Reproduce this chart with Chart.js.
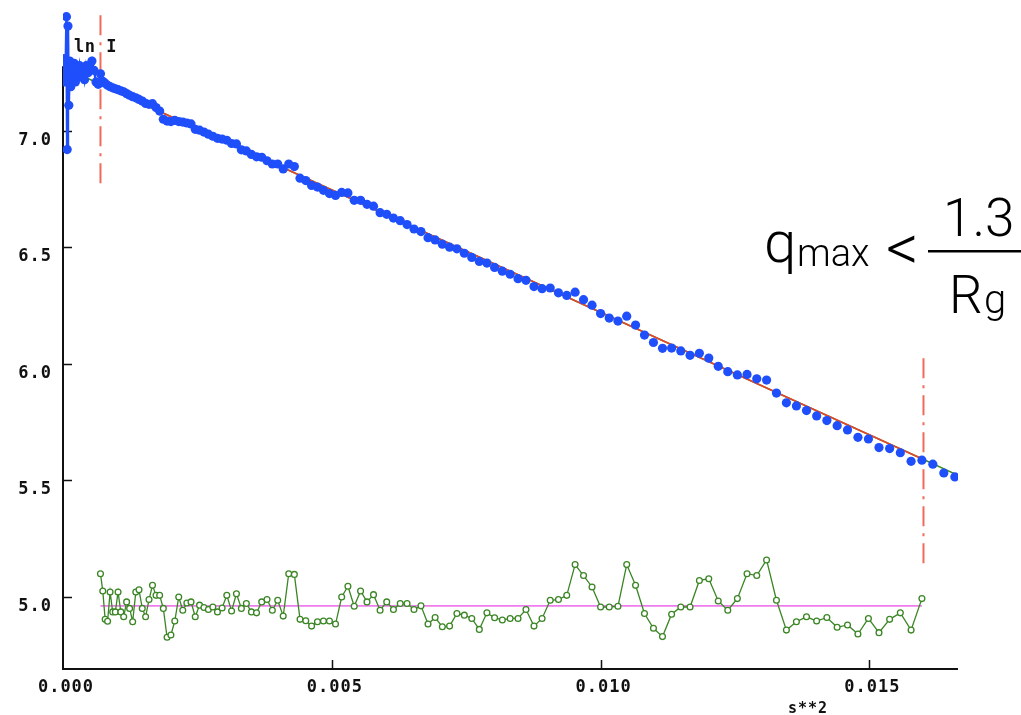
<!DOCTYPE html>
<html lang="en">
<head>
<meta charset="UTF-8">
<style>
  body { margin: 0; background: #fff; }
  #wrap { width: 1021px; height: 715px; }
</style>
</head>
<body>
<div id="wrap"><canvas id="guinier"></canvas></div>
<script src="https://cdn.jsdelivr.net/npm/chart.js@4.4.0/dist/chart.umd.min.js"></script>
<script>
// s**2 of every measured point, in units of 1e-6
const s2_e6 = [
  0.64, 2.56, 5.76, 10.24, 16.0, 23.04, 31.36, 40.96, 51.84, 64.0,
  77.44, 92.16, 108.16, 125.44, 144.0, 163.84, 184.96, 207.36, 231.04, 256.0,
  282.24, 309.76, 338.56, 368.64, 400.0, 432.64, 466.56, 501.76, 538.24, 576.0,
  615.04, 655.36, 696.96, 739.84, 784.0, 829.44, 876.16, 924.16, 973.44, 1024.0,
  1075.84, 1128.96, 1183.36, 1239.04, 1296.0, 1354.24, 1413.76, 1474.56, 1536.64, 1600.0,
  1664.64, 1730.56, 1797.76, 1866.24, 1936.0, 2007.04, 2079.36, 2152.96, 2227.84, 2304.0,
  2381.44, 2460.16, 2540.16, 2621.44, 2704.0, 2787.84, 2872.96, 2959.36, 3047.04, 3136.0,
  3226.24, 3317.76, 3410.56, 3504.64, 3600.0, 3696.64, 3794.56, 3893.76, 3994.24, 4096.0,
  4199.04, 4303.36, 4408.96, 4515.84, 4624.0, 4733.44, 4844.16, 4956.16, 5069.44, 5184.0,
  5299.84, 5416.96, 5535.36, 5655.04, 5776.0, 5898.24, 6021.76, 6146.56, 6272.64, 6400.0,
  6528.64, 6658.56, 6789.76, 6922.24, 7056.0, 7191.04, 7327.36, 7464.96, 7603.84, 7744.0,
  7885.44, 8028.16, 8172.16, 8317.44, 8464.0, 8611.84, 8760.96, 8911.36, 9063.04, 9216.0,
  9370.24, 9525.76, 9682.56, 9840.64, 10000.0, 10160.64, 10322.56, 10485.76, 10650.24, 10816.0,
  10983.04, 11151.36, 11320.96, 11491.84, 11664.0, 11837.44, 12012.16, 12188.16, 12365.44, 12544.0,
  12723.84, 12904.96, 13087.36, 13271.04, 13456.0, 13642.24, 13829.76, 14018.56, 14208.64, 14400.0,
  14592.64, 14786.56, 14981.76, 15178.24, 15376.0, 15575.04, 15775.36, 15976.96, 16179.84, 16384.0,
  16589.44
];

// ln I for the same points
const lnI = [
  7.25, 7.30, 7.22, 7.27, 7.31, 7.23, 7.28, 7.21, 7.30, 7.49,
  6.92, 7.45, 7.11, 7.30, 7.19, 7.27, 7.22, 7.29, 7.21, 7.26,
  7.23, 7.28, 7.24, 7.26, 7.22, 7.28, 7.25, 7.27, 7.30, 7.26,
  7.21, 7.20, 7.245, 7.213, 7.205, 7.196, 7.190, 7.185, 7.181, 7.177,
  7.172, 7.168, 7.160, 7.153, 7.147, 7.142, 7.135, 7.128, 7.118, 7.114,
  7.117, 7.100, 7.085, 7.050, 7.042, 7.040, 7.045, 7.040, 7.038, 7.034,
  7.030, 7.007, 7.003, 6.995, 6.986, 6.977, 6.968, 6.965, 6.960, 6.946,
  6.944, 6.919, 6.914, 6.899, 6.889, 6.887, 6.872, 6.858, 6.858, 6.837,
  6.858, 6.847, 6.797, 6.787, 6.766, 6.759, 6.745, 6.731, 6.723, 6.736,
  6.734, 6.702, 6.702, 6.685, 6.677, 6.649, 6.642, 6.626, 6.615, 6.598,
  6.579, 6.568, 6.542, 6.532, 6.514, 6.501, 6.494, 6.475, 6.457, 6.440,
  6.433, 6.414, 6.398, 6.385, 6.366, 6.359, 6.332, 6.323, 6.326, 6.305,
  6.294, 6.308, 6.276, 6.252, 6.216, 6.197, 6.184, 6.205, 6.167, 6.124,
  6.092, 6.067, 6.068, 6.056, 6.037, 6.046, 6.025, 5.990, 5.967, 5.953,
  5.955, 5.936, 5.931, 5.875, 5.833, 5.820, 5.800, 5.777, 5.757, 5.735,
  5.717, 5.685, 5.678, 5.641, 5.637, 5.619, 5.582, 5.587, 5.570, 5.532,
  5.515
];

// points 33..158 are inside the fit range
const fitFirst = 33, fitLast = 158;

// residuals (offset plot, drawn round its zero line)
const resid = [
  5.100, 5.026, 4.904, 4.896, 5.021, 4.936, 4.936, 5.021, 4.936, 4.915,
  4.979, 4.951, 4.894, 5.021, 5.031, 4.951, 4.915, 4.989, 5.050, 5.007,
  5.007, 4.951, 4.827, 4.837, 4.897, 5.000, 4.943, 4.974, 4.979, 4.915,
  4.965, 4.955, 4.946, 4.957, 4.936, 4.953, 5.007, 4.940, 5.014, 4.951,
  4.972, 4.936, 4.932, 4.979, 4.989, 4.943, 4.986, 4.918, 5.100, 5.097,
  4.904, 4.898, 4.875, 4.894, 4.897, 4.897, 4.884, 5.000,
  5.046, 4.960, 5.026, 4.979, 5.010, 4.943, 4.979, 4.946, 4.972, 4.972,
  4.946, 4.962, 4.884, 4.912, 4.872, 4.875, 4.929, 4.922, 4.908, 4.861,
  4.932, 4.911, 4.901, 4.908, 4.908, 4.946, 4.875, 4.908, 4.986, 4.989,
  5.007, 5.139, 5.092, 5.043, 4.957, 4.957, 4.960, 5.139, 5.050, 4.929,
  4.866, 4.830,
  4.926, 4.957, 4.957, 5.071, 5.078, 4.983, 4.943, 4.993, 5.100, 5.092,
  5.159, 4.986, 4.858, 4.894, 4.915, 4.897, 4.912, 4.870, 4.880, 4.841,
  4.908, 4.847, 4.904, 4.932, 4.858, 4.993
];
const residZero = 4.962;

// straight line fit, ends
const fitS2 = [0, 0.000697, 0.015977, 0.016648];
const fitLn = [7.277, 7.199, 5.593, 5.522];

// dash-dot range markers
const cutS2 = [0.000697, 0.016006];
const cutTop = [7.496, 6.024];
const cutBottom = [6.760, 5.143];

const xTicks = [0, 0.005, 0.010, 0.015];
const xTickLabels = ['0.000', '0.005', '0.010', '0.015'];
const yTicks = [5.0, 5.5, 6.0, 6.5, 7.0];
const yTickLabels = ['5.0', '5.5', '6.0', '6.5', '7.0'];

const xMax = 0.016648, yMin = 4.691, yMax = 7.539, axisTop = 7.277;

const s2 = s2_e6.map(v => v / 1e6);
const pts = s2.map((x, i) => ({x: x, y: lnI[i]}));
const early = pts.slice(0, fitFirst);
const residPts = resid.map((y, i) => ({x: s2[fitFirst - 1 + i], y: y}));
const zeroPts = [{x: s2[fitFirst - 1], y: residZero}, {x: s2[fitLast - 1], y: residZero}];
const fitAll = fitS2.map((x, i) => ({x: x, y: fitLn[i]}));
const fitIn = fitAll.slice(1, 3);

const axesPlugin = {
  id: 'axes',
  beforeDatasetsDraw(chart) {
    const ctx = chart.ctx, xs = chart.scales.x, ys = chart.scales.y;
    const x0 = xs.getPixelForValue(0), yb = ys.getPixelForValue(yMin);
    ctx.save();
    ctx.strokeStyle = '#111';
    ctx.lineWidth = 2;
    ctx.beginPath();
    ctx.moveTo(x0, ys.getPixelForValue(axisTop));
    ctx.lineTo(x0, yb);
    ctx.lineTo(xs.getPixelForValue(xMax), yb);
    ctx.stroke();
    ctx.lineWidth = 1.5;
    ctx.beginPath();
    xTicks.forEach(v => {
      if (v === 0) return;
      const px = Math.round(xs.getPixelForValue(v)) + 0.5;
      ctx.moveTo(px, yb); ctx.lineTo(px, yb - 9);
    });
    yTicks.forEach(v => {
      const py = Math.round(ys.getPixelForValue(v)) + 0.5;
      ctx.moveTo(x0, py); ctx.lineTo(x0 + 9, py);
    });
    ctx.stroke();

    ctx.fillStyle = '#111';
    ctx.font = 'bold 17px "DejaVu Sans Mono", monospace';
    ctx.letterSpacing = '1px';
    ctx.textBaseline = 'alphabetic';
    ctx.textAlign = 'center';
    xTicks.forEach((v, i) => {
      ctx.fillText(xTickLabels[i], xs.getPixelForValue(v) + 3, yb + 23);
    });
    ctx.textAlign = 'right';
    yTicks.forEach((v, i) => {
      ctx.fillText(yTickLabels[i], 52, ys.getPixelForValue(v) + 14);
    });
    ctx.textAlign = 'center';
    ctx.font = 'bold 15px "DejaVu Sans Mono", monospace';
    ctx.letterSpacing = '1px';
    ctx.fillText('s**2', 808, 713);
    ctx.restore();
  },
  afterDraw(chart) {
    const ctx = chart.ctx;
    ctx.save();
    ctx.fillStyle = '#111';
    ctx.font = 'bold 17px "DejaVu Sans Mono", monospace';
    ctx.letterSpacing = '0.5px';
    ctx.textAlign = 'left';
    ctx.fillText('ln I', 74, 52);

    // formula
    ctx.letterSpacing = '0px';
    ctx.fillStyle = '#000';
    const f = (size) => '300 ' + size + 'px Roboto, "Liberation Sans", sans-serif';
    ctx.font = f(58);
    ctx.fillText('q', 764, 262);
    ctx.font = f(38);
    ctx.fillText('max', 797, 266);
    ctx.font = f(64);
    ctx.fillText('<', 886, 270);
    ctx.fillRect(928, 250, 93, 2.5);
    ctx.font = f(53);
    ctx.fillText('1.3', 943, 236);
    ctx.fillText('R', 949, 313);
    ctx.font = f(40);
    ctx.fillText('g', 984, 313);
    ctx.restore();
  }
};

new Chart(document.getElementById('guinier'), {
  type: 'scatter',
  data: {
    datasets: [
      {
        data: pts, order: 0,
        pointRadius: 4.6, pointBackgroundColor: '#1f4ffb', pointBorderWidth: 0,
        showLine: false
      },
      {
        data: early, order: 1, showLine: true,
        borderColor: '#1f4ffb', borderWidth: 2.5, pointRadius: 0
      },
      {
        data: fitIn, order: 2, showLine: true,
        borderColor: '#e8452e', borderWidth: 1.5, pointRadius: 0
      },
      {
        data: fitAll, order: 3, showLine: true,
        borderColor: '#3d8b25', borderWidth: 1.5, pointRadius: 0
      },
      {
        data: [{x: cutS2[0], y: cutTop[0]}, {x: cutS2[0], y: cutBottom[0]}], order: 4, showLine: true,
        borderColor: '#f06a5a', borderWidth: 2, borderDash: [20, 7, 3, 7], pointRadius: 0
      },
      {
        data: [{x: cutS2[1], y: cutTop[1]}, {x: cutS2[1], y: cutBottom[1]}], order: 4, showLine: true,
        borderColor: '#f06a5a', borderWidth: 2, borderDash: [20, 7, 3, 7], pointRadius: 0
      },
      {
        data: residPts, order: 5, showLine: true,
        borderColor: '#3a8524', borderWidth: 1.3,
        pointRadius: 2.9, pointBorderWidth: 1.3, pointBorderColor: '#3a8524', pointBackgroundColor: '#fff'
      },
      {
        data: zeroPts, order: 6, showLine: true,
        borderColor: '#ee7cee', borderWidth: 1.6, pointRadius: 0
      }
    ]
  },
  options: {
    responsive: true,
    maintainAspectRatio: false,
    animation: false,
    events: [],
    layout: { padding: { left: 63, right: 63, top: 0, bottom: 46 } },
    plugins: { legend: { display: false }, tooltip: { enabled: false } },
    scales: {
      x: { type: 'linear', display: false, min: 0, max: xMax },
      y: { type: 'linear', display: false, min: yMin, max: yMax }
    }
  },
  plugins: [axesPlugin]
});
</script>
</body>
</html>
